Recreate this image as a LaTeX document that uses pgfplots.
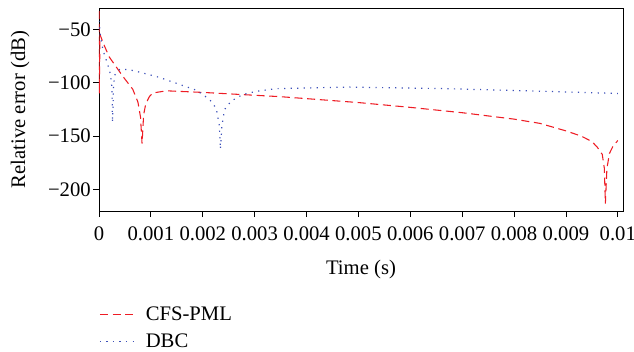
\documentclass[border=0pt]{standalone}
\usepackage{fontspec}
\setmainfont{Liberation Serif}
\usepackage{pgfplots}
\pgfplotsset{compat=1.18}
\definecolor{pmlred}{RGB}{238,28,36}
\definecolor{dbcblue}{RGB}{60,80,185}
\begin{document}
\begin{tikzpicture}
\begin{axis}[
  scale only axis,
  width=393pt, height=152.25pt,
  xmin=0, xmax=0.0101, ymin=-220, ymax=-30,
  xtick={0,0.001,0.002,0.003,0.004,0.005,0.006,0.007,0.008,0.009,0.01},
  xticklabels={0,0.001,0.002,0.003,0.004,0.005,0.006,0.007,0.008,0.009,0.01},
  scaled x ticks=false,
  ytick={-200,-150,-100,-50},
  yticklabels={−200,−150,−100,−50},
  tick align=outside,
  major tick length=4.5pt,
  tick style={black, line width=0.6pt},
  axis line style={line width=0.6pt},
  xtick pos=bottom, ytick pos=left,
  minor tick num=0,
  ticklabel style={font=\fontsize{15.5}{17}\selectfont},
  xticklabel style={yshift=-3.5pt},
  yticklabel style={xshift=1.8pt},
  label style={font=\fontsize{15.5}{17}\selectfont},
  xlabel={Time (s)},
  ylabel={Relative error (dB)},
  xlabel style={yshift=-8pt},
  ylabel style={yshift=7pt},
  legend style={at={(0,-0.442)}, anchor=north west, draw=none, fill=none,
    font=\fontsize{15.5}{17}\selectfont, row sep=5pt, inner xsep=0pt,
    legend cell align=left, nodes={inner xsep=7pt}},
  legend image code/.code={\draw[#1] (-1pt,0pt) -- (26pt,0pt);},
]
\addplot[pmlred, line width=0.8pt, dash pattern=on 6pt off 3.5pt] coordinates {
(0,-33) (0.000005,-110) (0.00002,-55) (0.0001,-65) (0.0002,-76) (0.00046,-94)
(0.00065,-106) (0.00075,-118) (0.0008,-132) (0.00083,-157) (0.00086,-130)
(0.0009,-120) (0.00097,-113) (0.00104,-109.5) (0.0013,-107.5) (0.002,-109)
(0.0035,-113) (0.005,-118.5) (0.006,-123) (0.007,-128) (0.008,-134)
(0.0085,-138) (0.009,-145) (0.0093,-150) (0.0095,-155) (0.0096,-160)
(0.0097,-167) (0.00974,-180) (0.00976,-213) (0.00979,-180) (0.00984,-166)
(0.0099,-160) (0.01,-154)
};
\addlegendentry{CFS-PML}
\addplot[dbcblue, line width=0.9pt, dash pattern=on 0.9pt off 4pt] coordinates {
(0,-42) (0.00003,-57) (0.00008,-70) (0.00017,-83) (0.00022,-92) (0.00025,-105)
(0.00026,-137) (0.00028,-105) (0.0003,-93) (0.0004,-87.5) (0.00056,-87.5)
(0.00078,-90) (0.00117,-95) (0.00155,-101.5) (0.00188,-107) (0.00213,-115.5)
(0.00226,-124) (0.00232,-140) (0.00234,-162) (0.00237,-140) (0.00242,-125)
(0.00255,-117) (0.00277,-111) (0.00303,-108) (0.0034,-105.5) (0.0048,-104)
(0.0067,-105.5) (0.0086,-108) (0.0100,-110)
};
\addlegendentry{DBC}
\end{axis}
\pgfresetboundingbox
\path[use as bounding box] ([xshift=-74.25pt,yshift=6pt]current axis.north west)
  rectangle ([xshift=8.25pt,yshift=-105pt]current axis.south east);
\end{tikzpicture}
\end{document}
